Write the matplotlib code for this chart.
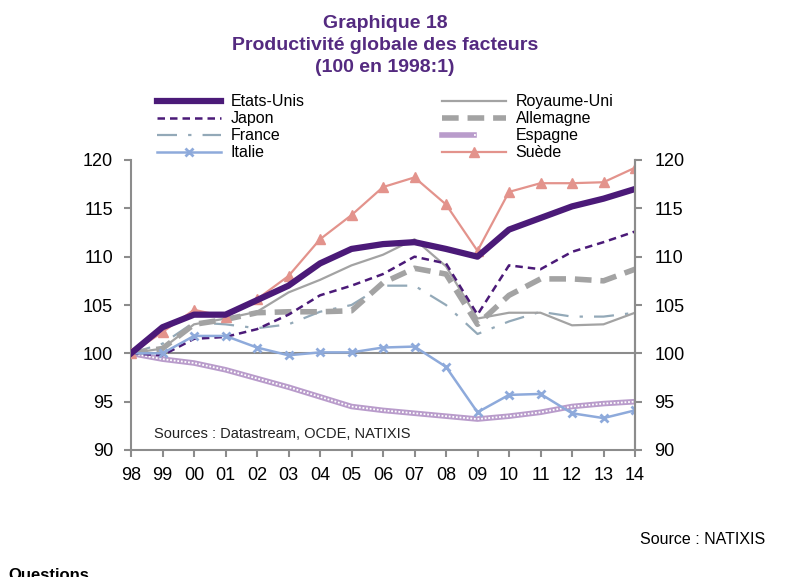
import matplotlib
matplotlib.use("Agg")
import matplotlib.pyplot as plt
from matplotlib.legend_handler import HandlerTuple

plt.rcParams['font.family'] = ['Liberation Sans', 'DejaVu Sans']

# Données (indice 100 en 1998)
annees = ['98', '99', '00', '01', '02', '03', '04', '05', '06', '07',
          '08', '09', '10', '11', '12', '13', '14']
etats_unis = [100, 102.7, 104.0, 104.0, 105.5, 107.0, 109.3, 110.8, 111.3, 111.5,
              110.8, 110.0, 112.8, 114.0, 115.2, 116.0, 117.0]
royaume_uni = [100, 100.5, 103.0, 103.6, 104.3, 106.3, 107.6, 109.1, 110.2, 111.8,
               109.0, 103.6, 104.2, 104.2, 102.9, 103.0, 104.2]
japon = [100, 99.8, 101.5, 101.7, 102.5, 104.0, 106.0, 107.0, 108.2, 110.0,
         109.3, 104.0, 109.1, 108.7, 110.5, 111.5, 112.6]
allemagne = [100, 100.5, 103.0, 103.5, 104.2, 104.3, 104.3, 104.4, 107.3, 108.8,
             108.2, 103.0, 106.0, 107.7, 107.7, 107.5, 108.7]
france = [100, 101.0, 103.2, 103.0, 102.6, 103.0, 104.3, 105.0, 107.0, 107.0,
          105.0, 102.0, 103.3, 104.3, 103.8, 103.8, 104.2]
espagne = [100, 99.4, 99.0, 98.3, 97.4, 96.5, 95.5, 94.5, 94.1, 93.8,
           93.5, 93.2, 93.5, 93.9, 94.5, 94.8, 95.0]
italie = [100, 100.0, 101.8, 101.8, 100.6, 99.8, 100.1, 100.1, 100.6, 100.7,
          98.6, 93.9, 95.7, 95.8, 93.8, 93.3, 94.1]
suede = [100, 102.2, 104.5, 103.8, 105.6, 108.0, 111.8, 114.3, 117.2, 118.2,
         115.4, 110.6, 116.7, 117.6, 117.6, 117.7, 119.2]

violet = '#4b1a78'
gris = '#a3a3a3'
titre_coul = '#542a80'
axe_coul = '#8c8c8c'

fig = plt.figure(figsize=(7.96, 5.77), dpi=100)
ax = fig.add_axes([131 / 796, 1 - 450 / 577, 504 / 796, 290 / 577])
x = list(range(len(annees)))

ax.axhline(100, color=axe_coul, lw=1.5, zorder=1)

l_es_bg, = ax.plot(x, espagne, color='#b99ccb', lw=4, zorder=2)
l_es_fg, = ax.plot(x, espagne, color='white', lw=1.3, ls=(0, (1, 1)), zorder=2)
l_fr, = ax.plot(x, france, color='#93a9b8', lw=1.6, ls=(0, (9, 5, 1.5, 5)), zorder=3)
l_al, = ax.plot(x, allemagne, color=gris, lw=4, ls=(0, (3, 1.6)), zorder=3)
l_ru, = ax.plot(x, royaume_uni, color=gris, lw=1.6, zorder=3)
l_ja, = ax.plot(x, japon, color=violet, lw=1.8, ls=(0, (3, 2)), zorder=4)
l_it, = ax.plot(x, italie, color='#8eaadb', lw=1.8, marker='x', ms=6, mew=2, zorder=4)
l_su, = ax.plot(x, suede, color='#e3938c', lw=1.6, marker='^', ms=7, zorder=4)
l_eu, = ax.plot(x, etats_unis, color=violet, lw=4.5, zorder=5)

ax.set_xlim(0, len(annees) - 1)
ax.set_ylim(90, 120)
ax.set_xticks(x)
ax.set_xticklabels(annees)
ax.set_yticks(range(90, 121, 5))

ax.spines['top'].set_visible(False)
for s in ['left', 'right', 'bottom']:
    ax.spines[s].set_color(axe_coul)
    ax.spines[s].set_linewidth(1.5)
ax.tick_params(axis='y', direction='out', color=axe_coul, width=1.5, length=5,
               labelsize=13, pad=8)
ax.tick_params(axis='x', direction='out', color=axe_coul, width=1.5, length=5,
               labelsize=13, pad=7)

ax2 = ax.twinx()
ax2.set_ylim(90, 120)
ax2.set_yticks(range(90, 121, 5))
ax2.spines['top'].set_visible(False)
ax2.spines['right'].set_color(axe_coul)
ax2.spines['right'].set_linewidth(1.5)
ax2.spines['left'].set_visible(False)
ax2.spines['bottom'].set_visible(False)
ax2.tick_params(axis='y', direction='out', color=axe_coul, width=1.5, length=5,
                labelsize=13, pad=9)

ax.text(0.045, 0.04, 'Sources : Datastream, OCDE, NATIXIS', transform=ax.transAxes,
        fontsize=10.5, color='#222222')

# Titre
titres = ['Graphique 18', 'Productivité globale des facteurs', '(100 en 1998:1)']
for ligne, ypix in zip(titres, [23, 46, 68]):
    fig.text(385 / 796, 1 - ypix / 577, ligne, ha='center', va='center',
             fontsize=14, fontweight='bold', color=titre_coul)

# Légende en deux colonnes
poignees = [l_eu, l_ja, l_fr, l_it, l_ru, l_al, (l_es_bg, l_es_fg), l_su]
noms = ['Etats-Unis', 'Japon', 'France', 'Italie',
        'Royaume-Uni', 'Allemagne', 'Espagne', 'Suède']
leg = fig.legend(poignees, noms, ncol=2, loc='upper left',
                 bbox_to_anchor=(151 / 796, 1 - 88 / 577), frameon=False,
                 fontsize=11.5, handlelength=4.0, handletextpad=0.6,
                 columnspacing=8.6, labelspacing=0.12, borderaxespad=0,
                 handler_map={tuple: HandlerTuple(ndivide=None, pad=0)})

fig.text(765 / 796, 1 - 539 / 577, 'Source : NATIXIS', ha='right', va='center',
         fontsize=11.5, color='black')
fig.text(8 / 796, 1 - 583 / 577, 'Questions', ha='left', va='bottom',
         fontsize=12, fontweight='bold', color='black')

fig.savefig('out.png', dpi=100)
